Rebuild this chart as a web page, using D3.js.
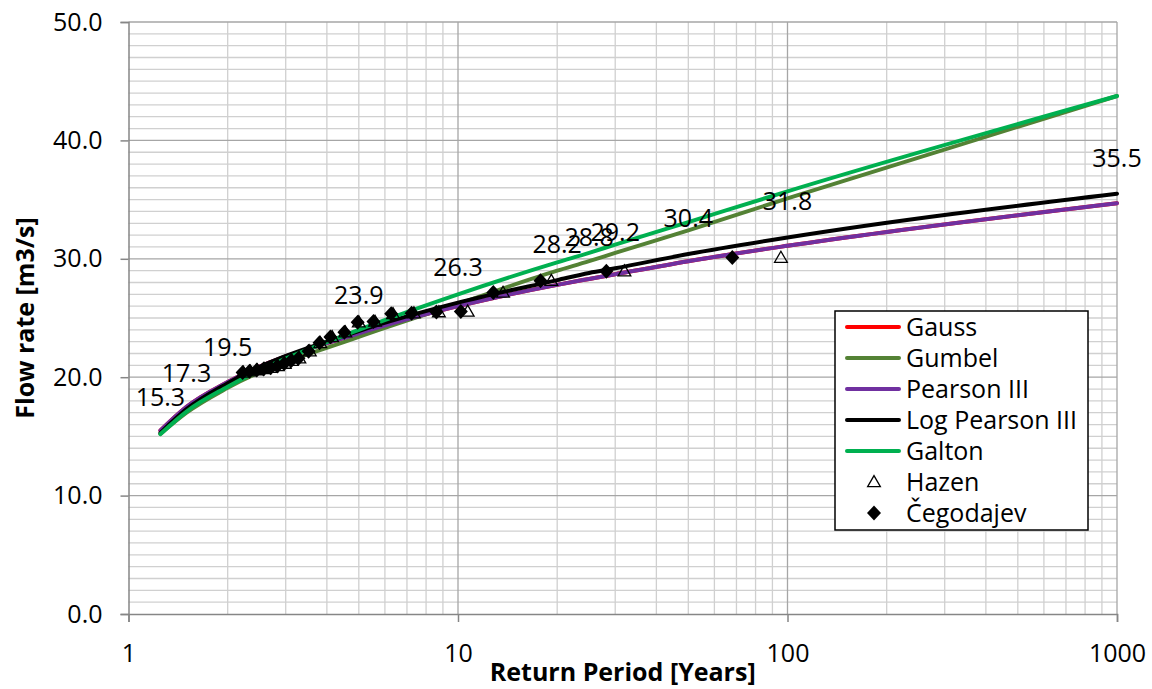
<!DOCTYPE html>
<html>
<head>
<meta charset="utf-8">
<script src="https://cdn.jsdelivr.net/npm/d3@7"></script>
<style>
  body { margin: 0; background: #fff; }
  text { font-family: "Open Sans", "Noto Sans", sans-serif; fill: #000; }
</style>
</head>
<body>
<svg id="chart"></svg>
<script>
// return periods where the distribution curves were evaluated
const returnPeriods = [1.25, 1.5, 2, 5, 10, 20, 25, 30, 50, 100, 1000];

// flow rates per distribution (m3/s)
const gauss       = [15.5, 17.5, 19.6, 23.7, 26.0, 27.8, 28.3, 28.7, 29.8, 31.1, 34.7];
const gumbel      = [15.2, 17.0, 19.1, 23.4, 26.2, 29.0, 29.8, 30.5, 32.4, 35.1, 43.75];
const pearson3    = [15.5, 17.5, 19.6, 23.7, 26.0, 27.8, 28.3, 28.7, 29.8, 31.1, 34.7];
const logPearson3 = [15.3, 17.3, 19.5, 23.9, 26.3, 28.2, 28.8, 29.2, 30.4, 31.8, 35.5];
const galton      = [15.2, 17.1, 19.2, 24.0, 27.0, 29.7, 30.5, 31.2, 33.1, 35.7, 43.75];

// observed maxima (largest first) and their plotting positions
const observedQ = [30.1, 28.95, 28.15, 27.15, 25.55, 25.5, 25.4, 25.35, 24.7, 24.65,
                   23.8, 23.4, 22.9, 22.2, 21.6, 21.4, 21.15, 20.95, 20.8, 20.7, 20.6, 20.5, 20.4];
const hazenT     = [95.5, 32.0, 19.2, 13.7, 10.7, 8.75, 7.35, 6.35, 5.6, 5.0,
                    4.55, 4.15, 3.82, 3.55, 3.3, 3.13, 2.98, 2.84, 2.71, 2.58, 2.46, 2.34, 2.23];
const cegodajevT = [68.0, 28.2, 17.8, 12.8, 10.2, 8.6, 7.23, 6.27, 5.54, 4.96,
                    4.52, 4.10, 3.80, 3.52, 3.28, 3.12, 2.97, 2.83, 2.70, 2.57, 2.45, 2.33, 2.22];

const yTicks = [0, 10, 20, 30, 40, 50];
const xTicks = [1, 10, 100, 1000];

const series = [
  { name: "Gauss", values: gauss, color: "#ff0000" },
  { name: "Gumbel", values: gumbel, color: "#548235" },
  { name: "Pearson III", values: pearson3, color: "#7030a0" },
  { name: "Log Pearson III", values: logPearson3, color: "#000000" },
  { name: "Galton", values: galton, color: "#00b050" }
];

const width = 1152, height = 689;
const svg = d3.select("#chart").attr("width", width).attr("height", height);

const x = d3.scaleLog().domain([1, 1000]).range([128.5, 1117]);
const y = d3.scaleLinear().domain([0, 50]).range([614, 22]);

// grid: minor first, then majors
const minorY = d3.range(1, 50).filter(v => v % 10 !== 0);
svg.append("g").selectAll("line").data(minorY).join("line")
  .attr("x1", x(1)).attr("x2", x(1000))
  .attr("y1", d => y(d)).attr("y2", d => y(d))
  .attr("stroke", "#d0d0d0").attr("stroke-width", 1.3);

const minorX = [];
[1, 10, 100].forEach(dec => { for (let k = 2; k <= 9; k++) minorX.push(dec * k); });
svg.append("g").selectAll("line").data(minorX).join("line")
  .attr("x1", d => x(d)).attr("x2", d => x(d))
  .attr("y1", y(0)).attr("y2", y(50))
  .attr("stroke", "#d0d0d0").attr("stroke-width", 1.3);

svg.append("g").selectAll("line").data(yTicks.slice(1)).join("line")
  .attr("x1", x(1)).attr("x2", x(1000))
  .attr("y1", d => y(d)).attr("y2", d => y(d))
  .attr("stroke", "#a6a6a6").attr("stroke-width", 1.3);
svg.append("g").selectAll("line").data(xTicks.slice(1)).join("line")
  .attr("x1", d => x(d)).attr("x2", d => x(d))
  .attr("y1", y(0)).attr("y2", y(50))
  .attr("stroke", "#a6a6a6").attr("stroke-width", 1.3);

// axes
const yAxis = svg.append("g").attr("transform", `translate(${x(1)},0)`)
  .call(d3.axisLeft(y).tickValues(yTicks).tickFormat(d3.format(".1f")).tickSize(8).tickPadding(18));
const xAxis = svg.append("g").attr("transform", `translate(0,${y(0)})`)
  .call(d3.axisBottom(x).tickValues(xTicks).tickFormat(d3.format("d")).tickSize(8).tickPadding(22));
[yAxis, xAxis].forEach(a => {
  a.select(".domain").attr("stroke", "#868686").attr("stroke-width", 1.5);
  a.selectAll(".tick line").attr("stroke", "#868686").attr("stroke-width", 1.5);
  a.selectAll(".tick text").attr("font-size", 25).attr("font-family", "Open Sans").attr("fill", "#000");
});

svg.append("text")
  .attr("transform", `translate(34,${(y(0) + y(50)) / 2}) rotate(-90)`)
  .attr("text-anchor", "middle")
  .attr("font-size", 25).attr("font-weight", "bold")
  .text("Flow rate [m3/s]");

svg.append("text")
  .attr("x", (x(1) + x(1000)) / 2).attr("y", 681)
  .attr("text-anchor", "middle")
  .attr("font-size", 25).attr("font-weight", "bold")
  .text("Return Period [Years]");

// distribution curves
const line = d3.line()
  .x(d => x(d[0])).y(d => y(d[1]))
  .curve(d3.curveMonotoneX);

series.forEach(s => {
  svg.append("path")
    .datum(returnPeriods.map((t, i) => [t, s.values[i]]))
    .attr("d", line)
    .attr("fill", "none")
    .attr("stroke", s.color)
    .attr("stroke-width", 4)
    .attr("stroke-linecap", "round");
});

// observed points
const triangle = d3.symbol().type(d3.symbolTriangle).size(70);
const diamond = "M0,-7.5L7,0L0,7.5L-7,0Z";

svg.append("g").selectAll("path")
  .data(hazenT.map((t, i) => [t, observedQ[i]]))
  .join("path")
  .attr("transform", d => `translate(${x(d[0])},${y(d[1]) + 1})`)
  .attr("d", triangle)
  .attr("fill", "none").attr("stroke", "#000").attr("stroke-width", 1.3);

svg.append("g").selectAll("path")
  .data(cegodajevT.map((t, i) => [t, observedQ[i]]))
  .join("path")
  .attr("transform", d => `translate(${x(d[0])},${y(d[1])})`)
  .attr("d", diamond)
  .attr("fill", "#000");

// data labels for Log Pearson III (they overlap around T=20..30 in the original too)
svg.append("g").selectAll("text")
  .data(returnPeriods.map((t, i) => [t, logPearson3[i]]))
  .join("text")
  .attr("x", d => x(d[0]))
  .attr("y", d => y(d[1]) - 27)
  .attr("text-anchor", "middle")
  .attr("font-size", 25)
  .text(d => d3.format(".1f")(d[1]));

// legend
const lg = svg.append("g").attr("transform", "translate(835,311)");
lg.append("rect").attr("width", 253).attr("height", 219)
  .attr("fill", "#fff").attr("stroke", "#000").attr("stroke-width", 1.5);

const legendItems = series.map(s => ({ name: s.name, type: "line", color: s.color }))
  .concat([{ name: "Hazen", type: "tri" }, { name: "Čegodajev", type: "dia" }]);

legendItems.forEach((it, i) => {
  const cy = 16 + i * 31;
  const g = lg.append("g").attr("transform", `translate(0,${cy})`);
  if (it.type === "line") {
    g.append("line").attr("x1", 12).attr("x2", 64).attr("y1", 0).attr("y2", 0)
      .attr("stroke", it.color).attr("stroke-width", 4).attr("stroke-linecap", "round");
  } else if (it.type === "tri") {
    g.append("path").attr("transform", "translate(39,1)").attr("d", triangle)
      .attr("fill", "none").attr("stroke", "#000").attr("stroke-width", 1.3);
  } else {
    g.append("path").attr("transform", "translate(39,0)").attr("d", diamond).attr("fill", "#000");
  }
  g.append("text").attr("x", 71).attr("y", 0).attr("dy", "0.35em")
    .attr("font-size", 25).text(it.name);
});
</script>
</body>
</html>
